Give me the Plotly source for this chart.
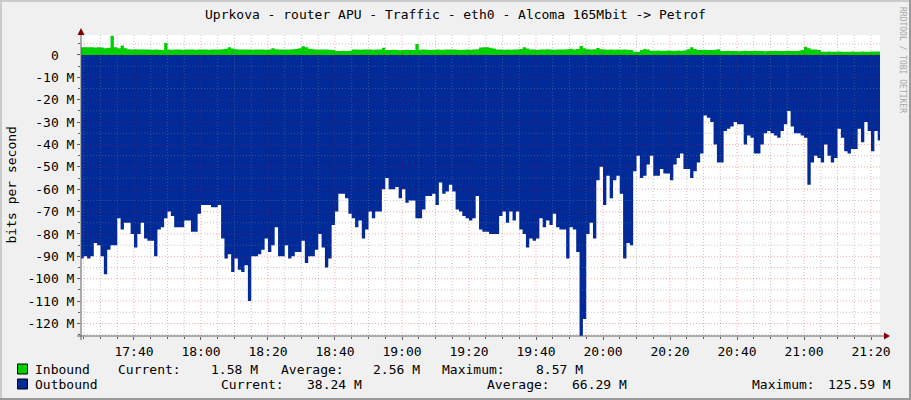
import numpy as np
import pandas as pd
import plotly.graph_objects as go

# one sample per minute, starting 17:24
start_time = "2024-01-01 17:24"

# outbound traffic in Mbit/s (drawn downwards)
outbound = [
    91, 90, 91, 90, 84, 85, 90, 98, 87, 85,
    85, 73, 78, 75, 75, 80, 86, 80, 75, 82,
    83, 83, 90, 78, 77, 73, 70, 72, 77, 77,
    77, 74, 74, 79, 79, 71, 67, 67, 67, 68,
    68, 67, 82, 91, 89, 97, 91, 96, 97, 94,
    110, 90, 90, 89, 87, 82, 88, 85, 77, 90,
    90, 85, 91, 90, 88, 88, 83, 93, 90, 90,
    87, 80, 86, 95, 91, 76, 70, 62, 62, 64,
    71, 73, 77, 74, 82, 78, 70, 73, 70, 70,
    60, 55, 60, 60, 59, 64, 60, 66, 65, 65,
    73, 73, 69, 63, 63, 62, 67, 57, 62, 61,
    58, 61, 69, 70, 72, 73, 74, 73, 63, 78,
    79, 79, 80, 80, 80, 72, 70, 75, 70, 74,
    70, 78, 80, 86, 82, 83, 82, 73, 77, 74,
    76, 71, 77, 78, 78, 91, 77, 78, 88, 125.59,
    118, 80, 75, 82, 56, 50, 67, 54, 64, 56,
    54, 62, 91, 84, 85, 52, 45, 55, 54, 49,
    45, 54, 54, 51, 53, 53, 56, 49, 46, 44,
    51, 51, 55, 52, 48, 44, 27, 28, 30, 40,
    48, 48, 34, 33, 32, 30, 31, 31, 40, 36,
    37, 44, 44, 40, 35, 34, 35, 36, 37, 34,
    31, 25, 32, 35, 35, 36, 37, 58, 48, 45,
    46, 48, 40, 45, 48, 46, 33, 37, 43, 44,
    42, 42, 33, 39, 30, 34, 43, 34, 38.24,
]

# inbound traffic in Mbit/s
inbound = [
    3.4, 3.4, 3.5, 3.4, 3.3, 3.4, 3.3, 3.0, 3.2, 8.57,
    3.5, 3.0, 4.2, 3.0, 2.6, 2.5, 2.6, 2.5, 2.4, 2.5,
    2.4, 2.3, 2.4, 2.3, 2.2, 5.4, 2.4, 2.3, 2.4, 2.5,
    2.3, 2.4, 2.5, 2.4, 2.3, 2.4, 2.5, 2.4, 2.3, 2.4,
    2.5, 2.4, 2.6, 2.8, 3.5, 2.9, 2.6, 2.5, 2.4, 2.5,
    2.4, 2.3, 2.4, 2.5, 2.4, 2.3, 2.5, 3.0, 2.6, 2.5,
    2.4, 2.5, 2.4, 2.6, 2.7, 3.0, 3.9, 3.4, 2.8, 2.6,
    2.5, 2.4, 2.5, 2.4, 2.3, 2.2, 1.8, 1.8, 1.9, 1.8,
    1.9, 2.4, 2.4, 2.3, 2.4, 2.5, 2.4, 2.3, 2.4, 2.5,
    3.2, 2.2, 2.2, 2.3, 2.2, 2.1, 2.2, 2.3, 2.2, 2.2,
    4.9, 2.3, 2.4, 2.3, 2.2, 2.3, 2.4, 2.3, 2.3, 2.4,
    2.5, 2.4, 2.3, 2.2, 2.3, 2.4, 2.3, 2.4, 2.6, 3.3,
    3.5, 3.4, 3.2, 2.9, 2.5, 2.4, 2.3, 2.4, 2.3, 2.4,
    2.5, 2.7, 3.5, 2.9, 2.5, 2.4, 2.3, 2.4, 2.5, 2.6,
    2.4, 2.3, 2.4, 2.5, 2.4, 2.6, 2.8, 2.5, 2.7, 4.0,
    3.0, 2.6, 2.5, 2.6, 3.1, 2.6, 2.4, 2.3, 2.4, 2.3,
    2.4, 2.3, 2.4, 2.3, 2.2, 1.5, 1.5, 2.2, 2.7, 2.4,
    1.9, 1.9, 2.0, 1.9, 1.9, 2.0, 1.9, 1.9, 2.0, 1.9,
    2.1, 2.6, 3.4, 2.7, 2.2, 2.2, 2.3, 2.2, 2.2, 2.3,
    2.6, 1.8, 1.8, 1.9, 1.8, 1.8, 1.7, 1.8, 1.9, 1.8,
    1.8, 1.9, 1.8, 1.8, 1.7, 1.8, 1.8, 1.9, 1.8, 1.8,
    1.8, 1.9, 1.8, 1.8, 1.9, 2.2, 3.7, 3.0, 2.4, 2.4,
    2.2, 1.5, 1.5, 1.6, 1.5, 1.5, 1.6, 1.5, 1.5, 1.5,
    1.6, 1.5, 1.5, 1.6, 1.5, 1.5, 1.6, 1.6, 1.58,
]

y_tick_vals = [0, -10, -20, -30, -40, -50, -60, -70, -80, -90, -100, -110, -120]
y_tick_text = ["0\u00a0\u00a0", "-10 M", "-20 M", "-30 M", "-40 M", "-50 M", "-60 M",
               "-70 M", "-80 M", "-90 M", "-100 M", "-110 M", "-120 M"]

legend_rows = [
    ("Inbound", "#00CF00", [("Current:", "1.58 M"), ("Average:", "2.56 M"), ("Maximum:", "8.57 M")]),
    ("Outbound", "#002A97", [("Current:", "38.24 M"), ("Average:", "66.29 M"), ("Maximum:", "125.59 M")]),
]

title = "Uprkova - router APU - Traffic - eth0 - Alcoma 165Mbit -> Petrof"

# ---- geometry (pixels of the 911x400 image)
W, H = 911, 400
L, R, T, B = 81, 880, 35, 336
FONT = "DejaVu Sans Mono"


def px(x):
    return (x - L) / (R - L)


def py(y):
    return (B - y) / (B - T)


n = len(outbound)
times = pd.date_range(start_time, periods=n + 1, freq="min")
out_vals = -np.append(outbound, outbound[-1])
in_vals = np.append(inbound, inbound[-1])

fig = go.Figure()
fig.add_trace(go.Scatter(x=times, y=out_vals, mode="lines", line=dict(width=0, shape="hv"),
                         fill="tozeroy", fillcolor="#002A97", hoverinfo="skip"))
fig.add_trace(go.Scatter(x=times, y=in_vals, mode="lines", line=dict(width=0, shape="hv"),
                         fill="tozeroy", fillcolor="#00CF00", hoverinfo="skip"))

x0 = pd.Timestamp("2024-01-01 17:24:11")
x1 = pd.Timestamp("2024-01-01 21:22:41")
y0, y1 = -125.59, 8.93

# grid on top of the areas, like rrdtool
shapes = []
t = pd.Timestamp("2024-01-01 17:25")
while t <= x1:
    major = t.minute % 20 == 0
    shapes.append(dict(type="line", xref="x", yref="y", x0=t, x1=t, y0=y0, y1=y1, layer="above",
                       line=dict(color="rgba(255,0,0,0.35)" if major else "rgba(128,128,128,0.45)",
                                 width=1, dash="1px,2px")))
    t += pd.Timedelta(minutes=5)
for v in range(-125, 10, 5):
    major = v % 10 == 0
    shapes.append(dict(type="line", xref="paper", yref="y", x0=0, x1=1, y0=v, y1=v, layer="above",
                       line=dict(color="rgba(255,0,0,0.35)" if major else "rgba(128,128,128,0.45)",
                                 width=1, dash="1px,2px")))

axis_col = "#606060"
arrow_col = "#7F0000"
# axes with arrows
shapes.append(dict(type="line", xref="paper", yref="paper", x0=px(77), x1=px(885), y0=0, y1=0,
                   line=dict(color=axis_col, width=1)))
shapes.append(dict(type="line", xref="paper", yref="paper", x0=0, x1=0, y0=py(340), y1=py(30),
                   line=dict(color=axis_col, width=1)))
shapes.append(dict(type="path", xref="paper", yref="paper", fillcolor=arrow_col, line=dict(width=0),
                   path=f"M {px(884)},{py(332.5)} L {px(890)},{py(336)} L {px(884)},{py(339.5)} Z"))
shapes.append(dict(type="path", xref="paper", yref="paper", fillcolor=arrow_col, line=dict(width=0),
                   path=f"M {px(77.5)},{py(35)} L {px(81)},{py(28)} L {px(84.5)},{py(35)} Z"))
# frame of the image
shapes.append(dict(type="line", xref="paper", yref="paper", x0=px(0), x1=px(W), y0=py(1), y1=py(1),
                   line=dict(color="#CBCBCB", width=2)))
shapes.append(dict(type="line", xref="paper", yref="paper", x0=px(1), x1=px(1), y0=py(0), y1=py(H),
                   line=dict(color="#CBCBCB", width=2)))
shapes.append(dict(type="line", xref="paper", yref="paper", x0=px(0), x1=px(W), y0=py(H - 1), y1=py(H - 1),
                   line=dict(color="#999999", width=2)))
shapes.append(dict(type="line", xref="paper", yref="paper", x0=px(W - 1), x1=px(W - 1), y0=py(0), y1=py(H),
                   line=dict(color="#999999", width=2)))

ann = []
ann.append(dict(text=title, x=px(455.5), y=py(14), xref="paper", yref="paper", showarrow=False,
                xanchor="center", yanchor="middle", font=dict(family=FONT, size=13, color="#000000")))
ann.append(dict(text="bits per second", x=px(11), y=py(185.5), xref="paper", yref="paper",
                showarrow=False, textangle=-90, xanchor="center", yanchor="middle",
                font=dict(family=FONT, size=13, color="#000000")))
ann.append(dict(text="RRDTOOL / TOBI OETIKER", x=px(903), y=py(5), xref="paper", yref="paper",
                showarrow=False, textangle=90, xanchor="center", yanchor="top",
                font=dict(family=FONT, size=8, color="#A8A8A8")))

# legend rows: (label x, [(label x, value right edge)...])
row_y = [369, 384]
row_pos = [
    [(116, 260), (279, 422), (440, 585)],
    [(219, 364), (485, 629), (750, 893)],
]
for (name, col, stats), yy, pos in zip(legend_rows, row_y, row_pos):
    shapes.append(dict(type="rect", xref="paper", yref="paper", x0=px(17.5), x1=px(27.5),
                       y0=py(yy - 5), y1=py(yy + 5), fillcolor=col, line=dict(color="#000000", width=1)))
    ann.append(dict(text=name, x=px(33), y=py(yy), xref="paper", yref="paper", showarrow=False,
                    xanchor="left", yanchor="middle", font=dict(family=FONT, size=13, color="#000000")))
    for (lab, val), (lx, vx) in zip(stats, pos):
        ann.append(dict(text=lab, x=px(lx), y=py(yy), xref="paper", yref="paper", showarrow=False,
                        xanchor="left", yanchor="middle", font=dict(family=FONT, size=13, color="#000000")))
        ann.append(dict(text=val, x=px(vx), y=py(yy), xref="paper", yref="paper", showarrow=False,
                        xanchor="right", yanchor="middle", font=dict(family=FONT, size=13, color="#000000")))

fig.update_layout(
    width=W, height=H, autosize=False,
    margin=dict(l=L, r=W - R, t=T, b=H - B, pad=0),
    paper_bgcolor="#F0F0F0", plot_bgcolor="#FFFFFF",
    showlegend=False,
    shapes=shapes, annotations=ann,
    xaxis=dict(type="date", range=[x0, x1], showgrid=False, zeroline=False, showline=False,
               tickformat="%H:%M", dtick=20 * 60 * 1000, tick0="2024-01-01 17:40",
               ticks="outside", ticklen=3, tickcolor=axis_col,
               minor=dict(dtick=5 * 60 * 1000, tick0="2024-01-01 17:40", ticks="outside",
                          ticklen=2, tickcolor=axis_col, showgrid=False),
               tickfont=dict(family=FONT, size=13, color="#000000")),
    yaxis=dict(range=[y0, y1], showgrid=False, zeroline=False, showline=False,
               tickvals=y_tick_vals, ticktext=y_tick_text,
               ticks="outside", ticklen=3, tickcolor=axis_col,
               minor=dict(dtick=5, tick0=0, ticks="outside", ticklen=2, tickcolor=axis_col,
                          showgrid=False),
               tickfont=dict(family=FONT, size=13, color="#000000")),
)

fig.write_html("out.html", config={"displayModeBar": False},
               post_script="document.body.style.margin='0px';")
